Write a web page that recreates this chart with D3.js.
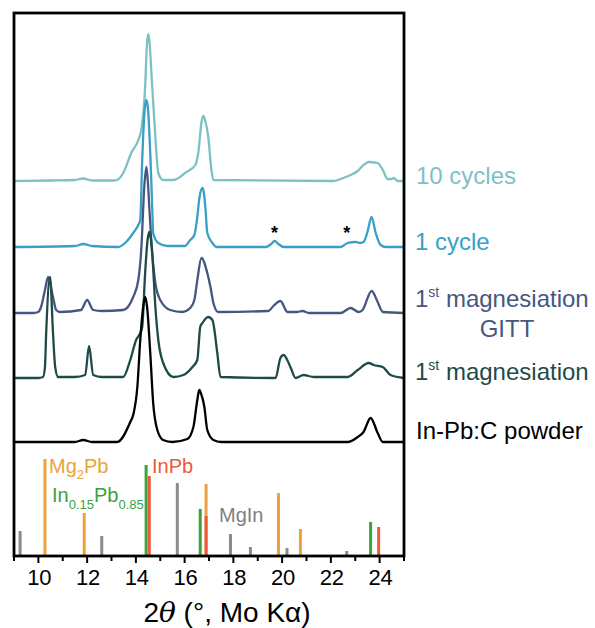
<!DOCTYPE html>
<html>
<head>
<meta charset="utf-8">
<script src="https://cdn.jsdelivr.net/npm/d3@7.9.0/dist/d3.min.js"></script>
<style>
  body { margin: 0; background: #fff; }
  svg { font-family: "Liberation Sans", Arial, sans-serif; }
</style>
</head>
<body>
<svg id="chart" width="595" height="628"></svg>
<script>
// XRD patterns, [2theta, intensity above own baseline] (a.u.)
const tenCycles = [[9.0,0],[10.5,0.5],[11.5,1],[11.84,2.5],[12.2,0.5],[13.07,0.5],[13.23,1],[13.48,8],[13.81,28],[14.10,41],[14.22,51],[14.38,94],[14.45,135],[14.51,147],[14.57,136],[14.63,111],[14.80,44],[14.92,8],[15.12,1],[15.54,1],[16.07,9],[16.44,16],[16.56,28],[16.70,60],[16.77,65],[16.85,60],[16.97,44],[17.10,11],[17.18,1],[22.11,0],[22.5,3],[22.81,6],[23.1,10],[23.34,16],[23.55,19],[23.92,18],[24.13,11],[24.33,2],[24.5,2],[24.58,3],[24.74,0],[25,0]];
const oneCycle = [[9,0],[11.5,1],[11.84,3],[12.2,1],[13.27,0],[13.6,5],[13.89,14],[14.10,22],[14.18,27],[14.26,87],[14.36,137],[14.43,147],[14.50,137],[14.59,94],[14.67,40],[14.71,14],[14.92,4],[15.3,1],[16.0,1],[16.23,7],[16.40,12],[16.52,30],[16.60,48],[16.73,59],[16.79,54],[16.85,40],[16.93,14],[17.14,4],[17.3,0],[19.32,0],[19.55,3],[19.69,6],[19.85,3],[20.06,0],[22.40,0],[22.69,4],[23.02,5],[23.20,4],[23.34,5],[23.50,15],[23.67,30],[23.84,14],[24.04,2],[24.25,0],[25,0]];
const firstMagGitt = [[9,0],[9.8,0],[9.99,1],[10.11,6],[10.27,23],[10.40,36],[10.60,16],[10.73,3],[10.89,1],[11.75,3],[12.0,13],[12.25,3],[12.6,2],[13.48,3],[13.89,16],[14.10,33],[14.22,63],[14.35,128],[14.43,146],[14.49,132],[14.55,106],[14.67,60],[14.80,30],[15.0,13],[15.41,3],[15.9,1],[16.23,5],[16.40,13],[16.52,33],[16.69,55],[16.93,40],[17.06,26],[17.18,10],[17.38,1],[19.44,2],[19.64,7],[19.93,12],[20.22,1],[20.6,1],[20.84,2],[21.1,0],[22.4,0],[22.81,5],[23.14,1],[23.3,3],[23.67,22],[23.92,11],[24.13,1],[25,0]];
const firstMag = [[9,0],[10.0,0],[10.19,1],[10.27,11],[10.32,45],[10.48,101],[10.60,45],[10.69,11],[10.81,1],[11.5,1],[11.92,3],[12.08,32],[12.25,3],[12.6,1],[13.48,1],[13.77,18],[14.01,38],[14.18,45],[14.26,51],[14.38,105],[14.48,138],[14.55,146],[14.61,140],[14.67,125],[14.80,71],[14.92,38],[15.12,15],[15.54,1],[15.95,3],[16.32,11],[16.52,18],[16.64,51],[16.73,55],[16.97,61],[17.14,58],[17.34,25],[17.47,1],[19.73,0],[19.93,20],[20.06,23],[20.34,11],[20.55,0],[20.88,3],[21.29,1],[22.69,1],[23.10,8],[23.55,15],[23.76,13],[24.13,11],[24.45,3],[25,0]];
const powder = [[9,0],[11.5,0],[11.84,2],[12.2,0],[13.23,0],[13.77,20],[13.90,28],[14.06,55],[14.18,102],[14.30,135],[14.38,145],[14.46,135],[14.59,89],[14.71,39],[14.88,12],[15.12,2],[15.5,0],[16.11,3],[16.36,15],[16.52,42],[16.60,52],[16.68,48],[16.81,35],[16.93,12],[17.18,2],[17.5,0],[22.69,0],[23.10,5],[23.34,10],[23.63,24],[23.92,9],[24.13,0],[25,0]];

const patterns = [tenCycles, oneCycle, firstMagGitt, firstMag, powder];
const offsets = [375, 309, 243, 178, 114];
const patternColors = ['#7cc1c4', '#3a9fc6', '#44587f', '#1f4a48', '#000000'];

// reference sticks [2theta, intensity]
const mgIn = [[9.25,25],[12.6,20],[15.7,73],[17.88,22],[18.7,9],[20.2,8],[22.65,5]];
const mg2Pb = [[10.27,97],[11.88,43],[16.88,72],[19.85,63],[20.75,27]];
const in015Pb085 = [[14.42,91],[16.64,47],[23.63,34]];
const inPb = [[14.55,80],[16.88,40],[23.96,29]];
const sticks = [mgIn, mg2Pb, in015Pb085, inPb];
const stickColors = ['#8a8a8a', '#eba23c', '#3aa43c', '#ea5a3a'];

// asterisks on the 1 cycle pattern
const starPositions = [19.69, 22.65];

const xTicks = d3.range(9, 26, 1);
const xLabels = [10, 12, 14, 16, 18, 20, 22, 24];

const svg = d3.select('#chart');
const x = d3.scaleLinear().domain([9, 25]).range([14, 404]);
const y = d3.scaleLinear().domain([0, 543]).range([556, 13]);

const line = d3.line()
  .x(d => x(d[0]))
  .y(d => d[1])
  .curve(d3.curveMonotoneX);

patterns.forEach((p, i) => {
  svg.append('path')
    .attr('d', line(p.map(d => [d[0], y(d[1] + offsets[i])])))
    .attr('fill', 'none')
    .attr('stroke', patternColors[i])
    .attr('stroke-width', 2.3)
    .attr('stroke-linejoin', 'round');
});

sticks.forEach((s, i) => {
  svg.selectAll(null)
    .data(s)
    .enter()
    .append('line')
    .attr('x1', d => x(d[0]))
    .attr('x2', d => x(d[0]))
    .attr('y1', y(0))
    .attr('y2', d => y(d[1]))
    .attr('stroke', stickColors[i])
    .attr('stroke-width', 3);
});

svg.selectAll(null)
  .data(starPositions)
  .enter()
  .append('text')
  .attr('x', d => x(d))
  .attr('y', y(offsets[1]) - 8)
  .attr('text-anchor', 'middle')
  .attr('font-size', 18)
  .attr('font-weight', 'bold')
  .text('*');

// frame
svg.append('rect')
  .attr('x', 14).attr('y', 13)
  .attr('width', 390).attr('height', 543)
  .attr('fill', 'none')
  .attr('stroke', '#000')
  .attr('stroke-width', 2.8);

// bottom axis
const axis = svg.append('g').attr('transform', `translate(0,${y(0)})`);
axis.selectAll('line')
  .data(xTicks)
  .enter()
  .append('line')
  .attr('x1', d => x(d)).attr('x2', d => x(d))
  .attr('y1', 0)
  .attr('y2', d => xLabels.includes(d) ? 7 : 5)
  .attr('stroke', '#000')
  .attr('stroke-width', 2);
axis.selectAll('text')
  .data(xLabels)
  .enter()
  .append('text')
  .attr('x', d => x(d) + 1)
  .attr('y', 29)
  .attr('text-anchor', 'middle')
  .attr('font-size', 22)
  .text(d => d);

const xTitle = svg.append('text')
  .attr('x', 227).attr('y', 622)
  .attr('text-anchor', 'middle')
  .attr('font-size', 28);
xTitle.append('tspan').text('2');
xTitle.append('tspan').attr('font-style', 'italic').attr('font-family', '"DejaVu Serif", serif').text('θ');
xTitle.append('tspan').text(' (°, Mo Kα)');

// pattern labels on the right
function label(xp, yp, color) {
  return svg.append('text').attr('x', xp).attr('y', yp).attr('fill', color).attr('font-size', 24);
}
label(416, 184, patternColors[0]).text('10 cycles');
label(415, 250, patternColors[1]).text('1 cycle');
let t = label(415, 307, patternColors[2]);
t.append('tspan').text('1');
t.append('tspan').attr('font-size', 14).attr('dy', -10).text('st');
t.append('tspan').attr('dy', 10).text(' magnesiation');
label(507, 337, patternColors[2]).attr('text-anchor', 'middle').text('GITT');
t = label(415, 380, patternColors[3]);
t.append('tspan').text('1');
t.append('tspan').attr('font-size', 14).attr('dy', -10).text('st');
t.append('tspan').attr('dy', 10).text(' magnesiation');
label(416, 439, '#000').text('In-Pb:C powder');

// stick labels
t = svg.append('text').attr('x', 49).attr('y', 473).attr('fill', stickColors[1]).attr('font-size', 20);
t.append('tspan').text('Mg');
t.append('tspan').attr('font-size', 13).attr('dy', 6).text('2');
t.append('tspan').attr('dy', -6).text('Pb');
t = svg.append('text').attr('x', 52).attr('y', 502).attr('fill', stickColors[2]).attr('font-size', 20);
t.append('tspan').text('In');
t.append('tspan').attr('font-size', 13).attr('dy', 7).text('0.15');
t.append('tspan').attr('dy', -7).text('Pb');
t.append('tspan').attr('font-size', 13).attr('dy', 7).text('0.85');
svg.append('text').attr('x', 152).attr('y', 473).attr('fill', stickColors[3]).attr('font-size', 20).text('InPb');
svg.append('text').attr('x', 219).attr('y', 522).attr('fill', '#808080').attr('font-size', 20).text('MgIn');
</script>
</body>
</html>
